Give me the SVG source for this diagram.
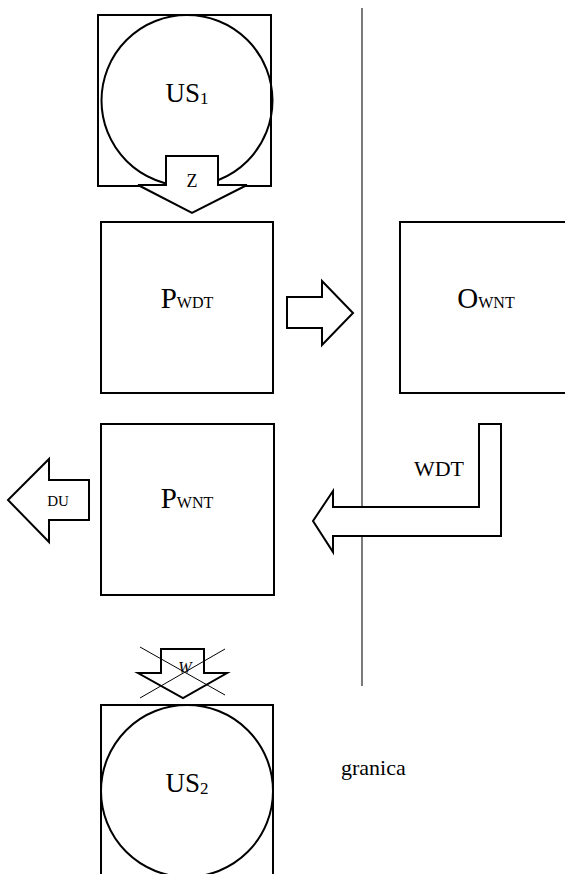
<svg xmlns="http://www.w3.org/2000/svg" width="565" height="874" viewBox="0 0 565 874">
<style>
.box{fill:#fff;stroke:#000;stroke-width:2}
.circ{fill:none;stroke:#000;stroke-width:2}
.arr{fill:#fff;stroke:#000;stroke-width:2;stroke-linejoin:miter}
.t{font-family:'Liberation Serif','Times New Roman',serif;fill:#000;text-anchor:middle}
</style>
<rect width="565" height="874" fill="#fff"/>
<g id="connectors">
<line x1="362" y1="8" x2="362" y2="686" stroke="#222" stroke-width="1.2"/>
</g>
<g id="US1">
<rect class="box" x="98" y="15" width="173" height="171"/>
<circle class="circ" cx="187" cy="100.5" r="85.5"/>
<text class="t" x="187" y="102" font-size="27">US<tspan font-size="17" dy="2">1</tspan></text>
</g>
<g id="PWDT">
<rect class="box" x="101" y="222" width="172" height="171"/>
<text class="t" x="187" y="308" font-size="29">P<tspan font-size="16">WDT</tspan></text>
</g>
<g id="OWNT">
<rect class="box" x="400" y="222" width="166" height="171"/>
<text class="t" x="486" y="308" font-size="29">O<tspan font-size="16">WNT</tspan></text>
</g>
<g id="PWNT">
<rect class="box" x="101" y="424" width="173" height="171"/>
<text class="t" x="187" y="508" font-size="29">P<tspan font-size="16">WNT</tspan></text>
</g>
<g id="US2">
<rect class="box" x="101" y="705" width="172" height="180"/>
<circle class="circ" cx="187" cy="791" r="86"/>
<text class="t" x="187" y="792" font-size="27">US<tspan font-size="17" dy="2">2</tspan></text>
</g>
<g id="granica">
<text class="t" x="341" y="775" font-size="22" style="text-anchor:start">granica</text>
</g>
<g id="arrows">
<g id="arrowZ">
<polygon class="arr" points="166,156 218,156 218,185 247,185 192,213 138,185 166,185"/>
<text class="t" x="192" y="187" font-size="18">Z</text>
</g>
<g id="arrowRight">
<polygon class="arr" points="287,297 322,297 322,281 353,313 322,345 322,328 287,328"/>
</g>
<g id="arrowDU">
<polygon class="arr" points="89,480 49,480 49,459 8,500 49,542 49,520 89,520"/>
<text class="t" x="58" y="506" font-size="15">DU</text>
</g>
<g id="arrowWDT">
<polygon class="arr" points="479,424 501,424 501,536 333,536 333,552 313,521 333,491 333,507 479,507"/>
<text class="t" x="439" y="476" font-size="22">WDT</text>
</g>
<g id="arrowW">
<polygon class="arr" points="161,649 204,649 204,673 227,673 183,698 138,673 161,673"/>
<text class="t" x="185" y="673" font-size="16" font-style="italic">W</text>
<line x1="140" y1="647" x2="225" y2="695" stroke="#000" stroke-width="1"/>
<line x1="140" y1="698" x2="225" y2="649" stroke="#000" stroke-width="1"/>
</g>
</g>
</svg>
